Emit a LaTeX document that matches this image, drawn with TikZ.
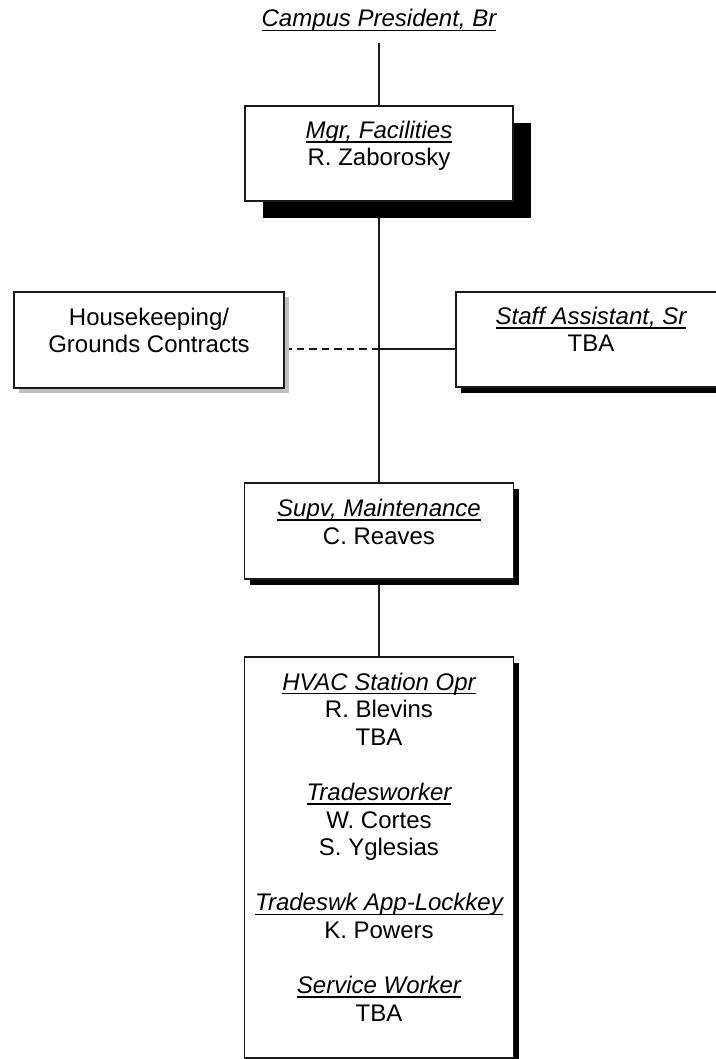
\documentclass[tikz,border=0pt]{standalone}
\usepackage{fontspec}
\setmainfont{Liberation Sans}
\usetikzlibrary{positioning,shadows,backgrounds}
\definecolor{ink}  {HTML}{1A1A1A}
\definecolor{shade}{HTML}{C0C0C0}
\newsavebox\ttlbox
\newcommand\ttl[1]{\sbox\ttlbox{\itshape #1}\rlap{\usebox\ttlbox}\rule[-4.3pt]{\wd\ttlbox}{1.5pt}}

\tikzset{
  orgbox/.style={draw=ink, fill=white, line width=1.6pt, inner sep=0pt},
  bigshadow/.style={drop shadow={shadow xshift=18pt, shadow yshift=-17pt, fill=black, opacity=1}},
  smallshadow/.style={drop shadow={shadow xshift=5pt, shadow yshift=-6pt, fill=black, opacity=1}},
  greyshadow/.style={drop shadow={shadow xshift=5pt, shadow yshift=-5pt, fill=shade, opacity=1}},
  txt/.style={anchor=base, inner sep=0pt, font=\fontsize{24}{27.6}\selectfont},
  tie/.style={draw=ink, line width=1.6pt}
}

\begin{document}
\begin{tikzpicture}[x=1pt,y=-1pt]
  \useasboundingbox (0,0) rectangle (715,1059);
  % top of the chart
  \node[txt] (pres) at (379,27) {\ttl{Campus President, Br}};
  \coordinate (pres-foot) at (379,43);

  % manager
  \node[orgbox, bigshadow, minimum width=268pt, minimum height=95pt] (mgr) at (379,153.5) {};
  \node[txt] (mgr-title) at (379,138.5) {\ttl{Mgr, Facilities}};
  \node[txt] (mgr-name) at (379,166) {R. Zaborosky};

  % contracts and staff beside the line
  \node[orgbox, greyshadow, minimum width=270pt, minimum height=96pt] (hk) at (149,340) {};
  \node[txt] (hk-1) at (149,325) {Housekeeping/};
  \node[txt] (hk-2) at (149,352) {Grounds Contracts};
  \node[orgbox, smallshadow, minimum width=271pt, minimum height=95pt] (staff) at (591.5,339.5) {};
  \node[txt] (staff-title) at (591,324.5) {\ttl{Staff Assistant, Sr}};
  \node[txt] (staff-name) at (591,351.5) {TBA};

  % supervisor
  \node[orgbox, smallshadow, minimum width=269pt, minimum height=96pt] (supv) at (379,531) {};
  \node[txt] (supv-title) at (379,516.5) {\ttl{Supv, Maintenance}};
  \node[txt] (supv-name) at (379,544) {C. Reaves};

  % crew
  \node[orgbox, smallshadow, minimum width=269pt, minimum height=401pt] (crew) at (379,857.5) {};
  \foreach \k/\txt in {0/\ttl{HVAC Station Opr}, 1/R. Blevins, 2/TBA,
                       4/\ttl{Tradesworker}, 5/W. Cortes, 6/S. Yglesias,
                       8/\ttl{Tradeswk App-Lockkey}, 9/K. Powers,
                       11/\ttl{Service Worker}, 12/TBA}{
    \node[txt] (crew-\k) at (379,{690+27.6*\k}) {\txt};
  }

  \begin{scope}[on background layer]
    \coordinate (jn) at (379,349);
    \draw[tie] (pres-foot) -- (mgr.north);
    \draw[tie] (mgr.south) -- (supv.north);
    \draw[tie] (jn) -- (jn -| staff.west);
    \draw[tie, dash pattern=on 7.5pt off 5pt] (jn) -- (jn -| hk.east);
    \draw[tie] (supv.south) -- (crew.north);
  \end{scope}
\end{tikzpicture}
\end{document}
